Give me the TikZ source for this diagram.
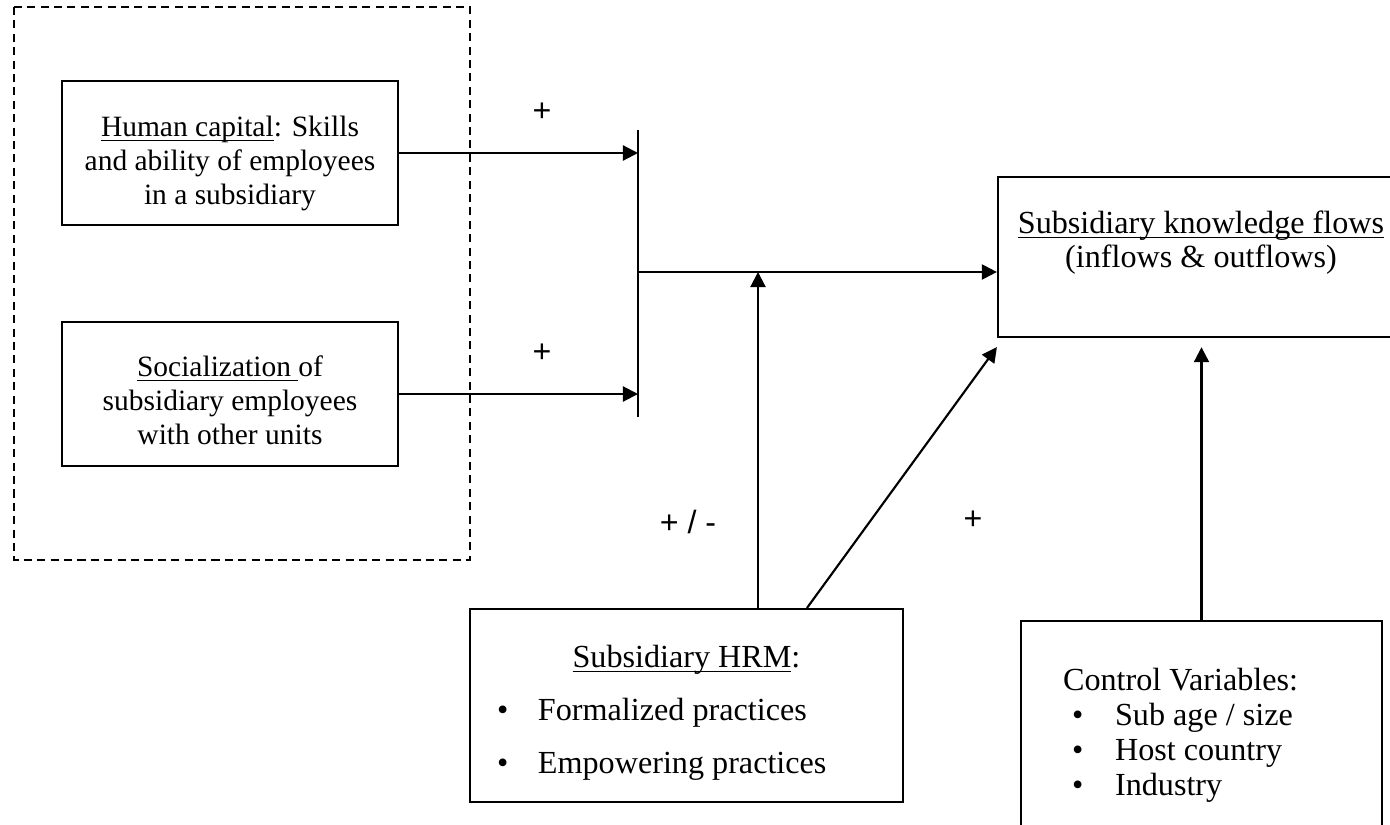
\documentclass[tikz,border=0pt]{standalone}
\usepackage{fontspec}
\setmainfont{Liberation Serif}
\newfontfamily\signfont{Liberation Sans}
\usetikzlibrary{arrows.meta,calc}
\newcommand{\ulin}[1]{\underline{\smash{#1}}}
\newcommand{\bul}[2]{\makebox[#1][l]{\textbullet}#2}
\newcommand{\boxtext}[2]{\raisebox{#1}[\height][\depth]{\begin{tabular}{@{}c@{}}#2\end{tabular}}}

\begin{document}
\begin{tikzpicture}[x=0.3731pt,y=-0.3731pt,
        box/.style={draw,line width=0.8pt},
        arr/.style={line width=0.8pt,-{Triangle[length=5.6pt,width=5.6pt]}},
        sign/.style={font=\signfont\fontsize{12}{14}\selectfont}]
    \useasboundingbox (0,0) rectangle (1390,824);

    \draw[line width=0.8pt,dash pattern=on 3pt off 2pt] (14,7) rectangle (470,560);
    \node[box,minimum width=125.4pt,minimum height=53.7pt,font=\fontsize{11}{12.7}\selectfont] (hc) at (230,153) {\boxtext{-4pt}{\ulin{Human capital}: Skills\\and ability of employees\\in a subsidiary}};
    \node[box,minimum width=125.4pt,minimum height=53.7pt,font=\fontsize{11}{12.7}\selectfont] (soc) at (230,394) {\boxtext{-3.6pt}{\ulin{Socialization\ }of\\subsidiary employees\\with other units}};

    \node[box,minimum width=151.5pt,minimum height=59.7pt,font=\fontsize{12}{12.7}\selectfont] (kf) at (1201,257) {\boxtext{5pt}{\ulin{Subsidiary knowledge flows}\\(inflows \& outflows)}};

    \node[box,inner xsep=10pt,minimum height=72pt,font=\fontsize{12}{19.8}\selectfont] (hrm) at (686.5,705.5) {\boxtext{-1.7pt}{\ulin{Subsidiary HRM}:\\\makebox[141.4pt][l]{\bul{15.3pt}{Formalized practices}}\\\makebox[141.4pt][l]{\bul{15.3pt}{Empowering practices}}}};

    \node[box,inner xsep=15.7pt,minimum height=83.6pt,font=\fontsize{12}{13.1}\selectfont] (ctrl) at (1201.5,733) {\boxtext{-1.1pt}{\makebox[103.3pt][l]{Control Variables:}\\\makebox[103.3pt][l]{\hspace{3.4pt}\bul{16pt}{Sub age / size}}\\\makebox[103.3pt][l]{\hspace{3.4pt}\bul{16pt}{Host country}}\\\makebox[103.3pt][l]{\hspace{3.4pt}\bul{16pt}{Industry}}}};

    \coordinate (bartop) at (638,130);
    \coordinate (barbot) at (638,417);
    \coordinate (join) at (638,272);
    \coordinate (mod) at (758,272);

    \node[sign] (p1) at (542,112) {+};
    \node[sign] (p2) at (542,353) {+};
    \node[sign] (p3) at (688,522) {+ / -};
    \node[sign] (p4) at (973,520) {+};

    \draw[line width=0.8pt] (bartop) -- (barbot);
    \draw[arr] (hc.east) -- (hc.east -| bartop);
    \draw[arr] (soc.east) -- (soc.east -| bartop);
    \draw[arr] (join) -- (join -| kf.west);
    \draw[arr] (hrm.north -| mod) -- (mod);
    \draw[arr] ($(hrm.north)+(120.5,0)$) -- ($(kf.south west)+(0,9)$);
    \draw[arr,shorten >=3.4pt] (ctrl.north) -- (ctrl.north |- kf.south);
\end{tikzpicture}
\end{document}
